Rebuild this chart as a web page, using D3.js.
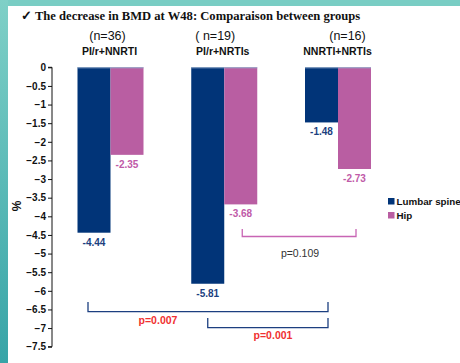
<!DOCTYPE html>
<html><head><meta charset="utf-8">
<script src="https://cdn.jsdelivr.net/npm/d3@7"></script>
<style>
html,body{margin:0;padding:0;background:#fff;}
svg{display:block;}
text{font-family:"Liberation Sans Narrow","Arial Narrow","Liberation Sans",Arial,sans-serif;}
</style></head>
<body>
<svg id="c" width="460" height="363"></svg>
<script>
const groups = ["PI/r+NNRTI","PI/r+NRTIs","NNRTI+NRTIs"];
const groupN = ["(n=36)","( n=19)","(n=16)"];
const seriesNames = ["Lumbar spine","Hip"];
const lumbar = [-4.44,-5.81,-1.48];
const hip = [-2.35,-3.68,-2.73];
const yTicks = [0,-0.5,-1,-1.5,-2,-2.5,-3,-3.5,-4,-4.5,-5,-5.5,-6,-6.5,-7,-7.5];
const title = "\u2713 The decrease in BMD at W48: Comparaison between groups";
const comparisons = [
  {from:1, to:2, series:"Hip", label:"p=0.109"},
  {from:0, to:2, series:"Lumbar spine", label:"p=0.007"},
  {from:1, to:2, series:"Lumbar spine", label:"p=0.001"}
];

const colors = {"Lumbar spine":"#013478","Hip":"#b95ea2"};
const labelColors = {"Lumbar spine":"#1c3f80","Hip":"#c05aa8"};

const svg = d3.select("#c");
const defs = svg.append("defs");
const lg = defs.append("linearGradient").attr("id","teal").attr("x1",0).attr("y1",0).attr("x2",0).attr("y2",1);
lg.append("stop").attr("offset","0%").attr("stop-color","#7fd0c7");
lg.append("stop").attr("offset","100%").attr("stop-color","#37a4a7");
svg.append("rect").attr("x",0).attr("y",0).attr("width",460).attr("height",6).attr("fill","#79cdc4");
svg.append("rect").attr("x",0).attr("y",0).attr("width",8).attr("height",363).attr("fill","url(#teal)");

svg.append("text").attr("x",21).attr("y",20)
  .style("font-family","'Liberation Serif','Times New Roman',serif")
  .style("font-weight","bold").style("font-size","12.6px").attr("fill","#111")
  .text(title);

const y = d3.scaleLinear().domain([0,-7.5]).range([67.3,346.7]);
const x0 = d3.scalePoint().domain(groups).range([110.5,338]);
const x1 = d3.scaleBand().domain(seriesNames).range([-33,33]);

const axis = d3.axisLeft(y).tickValues(yTicks).tickSize(4).tickFormat(d=>d===0?"0":d3.format("")(d));
const ax = svg.append("g").attr("transform","translate(52,0)").call(axis);
ax.select(".domain").attr("stroke","#111").attr("d","M-4,67.3H0V346.7H-4");
ax.selectAll(".tick line").attr("stroke","#111");
ax.selectAll(".tick text").attr("x",-6).style("font-size","10px").style("font-weight","bold").attr("fill","#111");

svg.append("text").attr("transform","translate(21,206) rotate(-90)").attr("text-anchor","middle")
  .style("font-size","12px").style("font-weight","bold").attr("fill","#111").text("%");

const nOff = [-3,-9,9.5];
const nameOff = [-1,-1.5,-0.5];
groups.forEach((g,i)=>{
  const cx = x0(g);
  svg.append("text").attr("x",cx + nOff[i]).attr("y",40).attr("text-anchor","middle")
    .style("font-family","'Liberation Sans',Arial,sans-serif").style("font-size","12.5px").attr("fill","#111").text(groupN[i]);
  svg.append("text").attr("x",cx + nameOff[i]).attr("y",55).attr("text-anchor","middle")
    .style("font-size","10.5px").style("font-weight","bold").attr("fill","#111").text(g);
});

const data = groups.map((g,i)=>({group:g, values:[{s:"Lumbar spine",v:lumbar[i]},{s:"Hip",v:hip[i]}]}));
const gg = svg.selectAll("g.grp").data(data).join("g").attr("class","grp")
  .attr("transform",d=>`translate(${x0(d.group)},0)`);
gg.selectAll("rect").data(d=>d.values).join("rect")
  .attr("x",d=>x1(d.s)).attr("width",x1.bandwidth())
  .attr("y",y(0)).attr("height",d=>y(d.v)-y(0)).attr("fill",d=>colors[d.s]);
gg.selectAll("line.top").data(d=>d.values).join("line").attr("class","top")
  .attr("x1",d=>x1(d.s)).attr("x2",d=>x1(d.s)+x1.bandwidth()).attr("y1",y(0)+0.5).attr("y2",y(0)+0.5)
  .attr("stroke","#8fa8c8").attr("stroke-width",1);
gg.selectAll("text.val").data(d=>d.values).join("text").attr("class","val")
  .attr("x",d=>x1(d.s)+x1.bandwidth()/2).attr("y",d=>y(d.v)+13).attr("text-anchor","middle")
  .style("font-size","10px").style("font-weight","bold").attr("fill",d=>labelColors[d.s]).text(d=>d.v.toFixed(2));

const cen = (gi,s)=>x0(groups[gi])+x1(s)+x1.bandwidth()/2;
const bracketY = [[229,236.5],[302,311.7],[318,327.7]];
const bracketOff = [[1.5,1.5],[-6,6.5],[0,6.5]];
const labelX = [300,158,273];
const labelY = [257,324,339];
const pColors = ["#333","#f03030","#f03030"];
comparisons.forEach((c,i)=>{
  const xa = cen(c.from,c.series)+bracketOff[i][0];
  const xb = cen(c.to,c.series)+bracketOff[i][1];
  const [t,b] = bracketY[i];
  svg.append("path").attr("d",`M${xa},${t}V${b}H${xb}V${t}`).attr("fill","none")
    .attr("stroke", c.series==="Hip"?"#c865b4":"#1c3f80").attr("stroke-width",1.3);
  svg.append("text").attr("x",labelX[i]).attr("y",labelY[i]).attr("text-anchor","middle")
    .style("font-family","'Liberation Sans',Arial,sans-serif")
    .style("font-size","10.5px").style("font-weight", i===0?"normal":"bold").attr("fill",pColors[i]).text(c.label);
});

const leg = svg.append("g").attr("transform","translate(388,198)");
seriesNames.forEach((s,i)=>{
  leg.append("rect").attr("x",0).attr("y",i*14).attr("width",6.5).attr("height",6.5).attr("fill",colors[s]);
  leg.append("text").attr("x",8.5).attr("y",i*14+7).style("font-size","9.8px").style("font-weight","bold")
    .attr("fill","#111").text(s);
});
</script>
</body></html>
